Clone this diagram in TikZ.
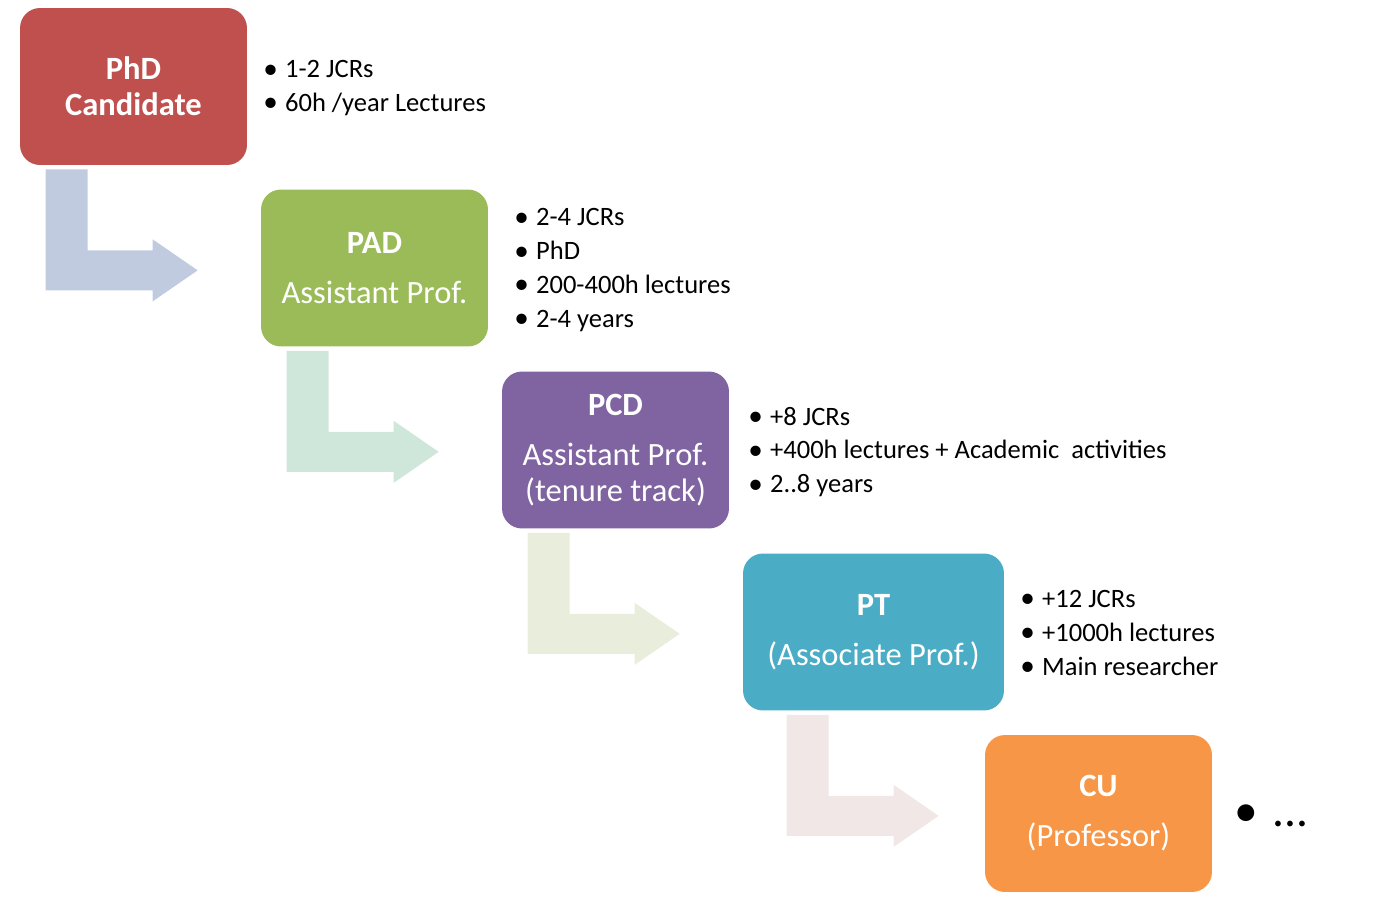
\documentclass[tikz,border=0pt]{standalone}
\usepackage{fontspec}
\setmainfont{Carlito}
\usetikzlibrary{calc}

\definecolor{phdred}{HTML}{C0504D}
\definecolor{padgreen}{HTML}{9BBB59}
\definecolor{pcdpurple}{HTML}{8064A2}
\definecolor{ptblue}{HTML}{4BACC6}
\definecolor{cuorange}{HTML}{F79646}
\definecolor{arrblue}{HTML}{C0CBE0}
\definecolor{arrgreen}{HTML}{CFE6DA}
\definecolor{arrolive}{HTML}{E9EDDC}
\definecolor{arrpink}{HTML}{F2E7E7}

\newcommand{\bul}{\makebox[12.4pt][l]{\raisebox{-0.3pt}{\scalebox{1.1}{\textbullet}}}}

\tikzset{
  rank/.style={rounded corners=0.4cm,minimum width=4.54cm,minimum height=3.14cm,align=center,text=white,inner sep=2pt,font=\fontsize{18.5}{20.5}\selectfont},
  req/.style={anchor=west,align=left,inner sep=0pt,font=\fontsize{15.1}{19.3}\selectfont}
}

\begin{document}
\begin{tikzpicture}[x=0.02cm,y=-0.02cm]
\useasboundingbox (0,0) rectangle (1400,900);
% career steps
\node[rank,fill=phdred] (phd) at (133.5,86.5) {\textbf{PhD}\\\textbf{Candidate}};
\node[rank,fill=padgreen] (pad) at (374.5,268) {\textbf{PAD}\\[8pt]Assistant Prof.};
\node[rank,fill=pcdpurple] (pcd) at (615.5,450) {\textbf{PCD}\\[8pt]Assistant Prof.\\(tenure track)};
\node[rank,fill=ptblue,minimum width=5.22cm] (pt) at (873.5,632) {\textbf{PT}\\[8pt](Associate Prof.)};
\node[rank,fill=cuorange] (cu) at (1098.5,813.5) {\textbf{CU}\\[8pt](Professor)};
% requirements
\node[req] (phdreq) at (263,88) {\bul 1-2 JCRs\\\bul 60h /year Lectures};
\node[req] (padreq) at (514,270) {\bul 2-4 JCRs\\\bul PhD\\\bul 200-400h lectures\\\bul 2-4 years};
\node[req] (pcdreq) at (748,452) {\bul +8 JCRs\\\bul +400h lectures + Academic \ activities\\\bul 2..8 years};
\node[req] (ptreq) at (1020,633) {\bul +12 JCRs\\\bul +1000h lectures\\\bul Main researcher};
\node[req,font=\fontsize{27}{30}\selectfont] (cureq) at (1234,816) {\makebox[22pt][l]{\textbullet}...};
% bent arrows
\foreach \a/\dx/\c in {phd/26/arrblue,pad/26/arrgreen,pcd/26/arrolive,pt/44/arrpink}
  \fill[\c] ($(\a.south west)+(\dx,4)$) -- ++(42,0) -- ++(0,81) -- ++(65,0) -- ++(0,-11)
    -- ++(45,31) -- ++(-45,31) -- ++(0,-11) -- ++(-107,0) -- cycle;
\end{tikzpicture}
\end{document}
